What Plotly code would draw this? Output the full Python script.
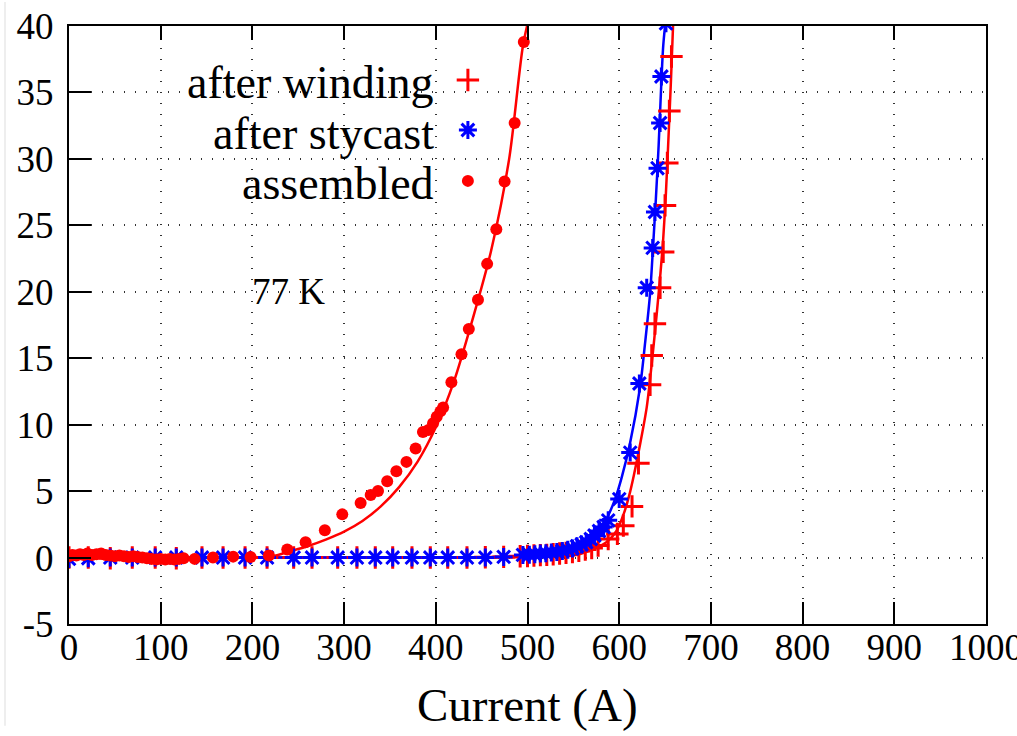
import plotly.graph_objects as go

# ---------------- data ----------------
winding_x = [0, 21, 45, 69, 94, 117, 145, 168, 192, 216, 245, 265, 293, 314, 334, 353, 374, 394,
             413, 434, 454, 474, 492, 500, 507, 514, 521, 528, 535, 542, 549, 556, 563, 570, 577,
             588, 598, 604.5, 614, 621, 633.7, 635.5, 639, 644.6, 648, 650, 652.5, 654.7, 657]
winding_y = [0.0, 0.0, -0.05, 0.0, 0.0, -0.05, 0.0, 0.0, 0.0, 0.0, 0.0, 0.0, 0.0, 0.0, 0.0, 0.0,
             0.0, 0.0, 0.0, 0.0, 0.02, 0.05, 0.1, 0.12, 0.15, 0.18, 0.2, 0.25, 0.3, 0.35, 0.42,
             0.5, 0.6, 0.72, 0.9, 1.4, 1.78, 2.4, 3.85, 7.1, 13.0, 15.2, 17.6, 20.3, 23.0, 26.5,
             29.7, 33.6, 37.7]

stycast_x = [0, 21, 45, 69, 94, 117, 145, 168, 192, 216, 245, 265, 293, 314, 334, 353, 374, 394,
             413, 434, 454, 474, 495, 502, 508, 514, 520, 526, 532, 538, 544, 549, 554, 559, 564,
             569, 573, 578, 583, 588, 600, 612, 622, 630, 636.5, 639, 641.8, 644.6, 646, 651]
stycast_y = [-0.1, -0.05, 0.0, 0.0, 0.0, 0.0, 0.0, 0.0, 0.0, 0.0, 0.0, 0.0, 0.0, 0.0, 0.0, 0.0,
             0.0, 0.0, 0.0, 0.0, 0.0, 0.05, 0.2, 0.22, 0.25, 0.3, 0.33, 0.38, 0.42, 0.5, 0.58,
             0.68, 0.85, 0.98, 1.15, 1.4, 1.66, 2.0, 2.3, 2.8, 4.4, 7.9, 13.1, 20.3, 23.3, 26.0,
             29.3, 32.7, 36.2, 40.2]

assembled_x = [0, 4, 8, 12, 16, 20, 25, 30, 35, 40, 45, 50, 55, 60, 65, 70, 75, 80, 85, 90, 95,
               100, 105, 110, 115, 120, 125, 137, 157, 179, 198, 218, 238, 258, 279, 298, 318,
               329, 337, 347, 357, 368, 378, 386, 392, 397, 401, 405, 408, 417, 428, 436, 446,
               456, 466, 475, 486, 496]
assembled_y = [0.1, 0.2, 0.15, 0.25, 0.2, 0.3, 0.2, 0.25, 0.3, 0.2, 0.15, 0.1, 0.15, 0.1, 0.05,
               0.1, 0.05, 0.0, -0.05, -0.1, -0.15, -0.1, -0.15, -0.1, -0.15, -0.1, -0.05, -0.1,
               0.0, 0.07, 0.05, 0.15, 0.6, 1.15, 2.05, 3.25, 4.1, 4.7, 5.0, 5.75, 6.5, 7.2, 8.2,
               9.45, 9.6, 10.1, 10.6, 11.0, 11.3, 13.2, 15.3, 17.2, 19.4, 22.1, 24.7, 28.3, 32.7,
               38.8]

# fitted curves
winding_fit_x = [0, 450, 500, 530, 550, 568, 586, 597, 605, 611, 616, 623, 630, 635.5, 641, 645,
                 648, 651, 654, 656.5, 659]
winding_fit_y = [0, 0, 0.03, 0.08, 0.15, 0.53, 1.15, 2.0, 3.3, 4.7, 6.2, 8.6, 11.3, 14.6, 18.4,
                 21.4, 24.0, 27.5, 32.0, 36.0, 40.5]

stycast_fit_x = [0, 400, 460, 500, 521, 543, 561, 575, 586, 595.5, 602.6, 611.8, 622.7, 628,
                 633.6, 637, 640, 643, 645.5, 648, 651.5]
stycast_fit_y = [0, 0, 0.03, 0.15, 0.32, 0.65, 1.15, 1.9, 2.9, 4.4, 6.0, 8.6, 12.8, 16.0, 19.8,
                 23.5, 27.0, 31.0, 35.0, 38.5, 41.0]

assembled_fit_x = [0, 200, 222, 240, 260, 280, 300, 320, 340, 360, 380, 400, 420, 440, 460,
                   480, 495, 503]
assembled_fit_y = [0, 0, 0.1, 0.45, 0.85, 1.35, 1.95, 2.75, 3.85, 5.3, 7.2, 9.8, 13.3, 17.9,
                   23.0, 30.0, 38.5, 41.0]

legend_labels = ["after winding", "after stycast", "assembled"]
x_ticks = [0, 100, 200, 300, 400, 500, 600, 700, 800, 900, 1000]
y_ticks = [-5, 0, 5, 10, 15, 20, 25, 30, 35, 40]

# ---------------- styling ----------------
RED = "#ff0000"
BLUE = "#0000ff"
FONT = "Liberation Serif"

fig = go.Figure()

# fit lines
fig.add_trace(go.Scatter(x=winding_fit_x, y=winding_fit_y, mode="lines", line=dict(color=RED, width=2.5, shape="spline", smoothing=0.8), showlegend=False, hoverinfo="skip"))
fig.add_trace(go.Scatter(x=stycast_fit_x, y=stycast_fit_y, mode="lines", line=dict(color=BLUE, width=2.5, shape="spline", smoothing=0.8), showlegend=False, hoverinfo="skip"))
fig.add_trace(go.Scatter(x=assembled_fit_x, y=assembled_fit_y, mode="lines", line=dict(color=RED, width=2.5, shape="spline", smoothing=0.8), showlegend=False, hoverinfo="skip"))

# data points
mk_wind = dict(symbol="cross-thin", size=16, color=RED, line=dict(color=RED, width=3))
mk_sty = dict(symbol="asterisk", size=15, color=BLUE, line=dict(color=BLUE, width=3))
mk_ass = dict(symbol="circle", size=12, color=RED, line=dict(width=0))

fig.add_trace(go.Scatter(x=winding_x, y=winding_y, mode="markers", marker=mk_wind, showlegend=False))
fig.add_trace(go.Scatter(x=stycast_x, y=stycast_y, mode="markers", marker=mk_sty, showlegend=False))
fig.add_trace(go.Scatter(x=assembled_x, y=assembled_y, mode="markers", marker=mk_ass, showlegend=False))

# legend keys (drawn on a hidden overlay axis in plot-fraction units)
key_y = [0.9097, 0.826, 0.741]
for mk, ky in zip([mk_wind, mk_sty, mk_ass], key_y):
    fig.add_trace(go.Scatter(x=[0.435], y=[ky], mode="markers", marker=mk, showlegend=False,
                             xaxis="x3", yaxis="y3", hoverinfo="skip"))

text_y = [0.906, 0.821, 0.737]
annotations = []
for lab, ty in zip(legend_labels, text_y):
    annotations.append(dict(text=lab, x=0.400, y=ty, xref="paper", yref="paper",
                            xanchor="right", yanchor="middle", showarrow=False,
                            font=dict(family=FONT, size=46, color="black")))
annotations.append(dict(text="77 K", x=197, y=20, xref="x", yref="y", xanchor="left",
                        yanchor="middle", showarrow=False,
                        font=dict(family=FONT, size=37, color="black")))
annotations.append(dict(text="Current (A)", x=0.5, y=-0.1355, xref="paper", yref="paper",
                        xanchor="center", yanchor="middle", showarrow=False,
                        font=dict(family=FONT, size=47, color="black")))

grid_dash = "1px,10px"
tick_font = dict(family=FONT, size=37, color="black")
fig.update_layout(
    width=1017, height=736,
    margin=dict(l=69, r=31, t=26, b=112),
    paper_bgcolor="white", plot_bgcolor="white",
    font=dict(family=FONT, color="black"),
    showlegend=False,
    annotations=annotations,
    xaxis=dict(range=[0, 1000], tickvals=x_ticks, ticktext=[str(v) for v in x_ticks],
               ticks="inside", ticklen=22, tickwidth=1.5, tickcolor="black",
               showline=True, linecolor="black", linewidth=2, mirror=True,
               showgrid=True, gridcolor="#333333", gridwidth=1.5, griddash=grid_dash,
               zeroline=False, automargin=False, ticklabelstandoff=-10,
               ticklabeloverflow="allow", tickfont=tick_font),
    yaxis=dict(range=[-5, 40], tickvals=y_ticks, ticktext=[str(v) for v in y_ticks],
               ticks="inside", ticklen=22, tickwidth=1.5, tickcolor="black",
               showline=True, linecolor="black", linewidth=2, mirror=True,
               showgrid=True, gridcolor="#333333", gridwidth=1.5, griddash=grid_dash,
               zeroline=False, automargin=False, ticklabelstandoff=6,
               ticklabeloverflow="allow", tickfont=tick_font),
    xaxis2=dict(overlaying="x", side="top", range=[0, 1000], tickvals=x_ticks,
                ticks="inside", ticklen=14, tickwidth=1.5, tickcolor="black",
                showticklabels=False, showgrid=False, showline=False, zeroline=False,
                automargin=False),
    xaxis3=dict(overlaying="x", range=[0, 1], visible=False, automargin=False),
    yaxis3=dict(overlaying="y", range=[0, 1], visible=False, automargin=False),
    shapes=[
        dict(type="line", xref="paper", yref="paper", x0=-0.0698, x1=-0.0698, y0=-0.17, y1=1.04,
             line=dict(color="#eeeeee", width=2)),
    ],
)
# dummy trace to activate the top tick axis
fig.add_trace(go.Scatter(x=[None], y=[None], xaxis="x2", yaxis="y", showlegend=False, hoverinfo="skip"))

fig.write_html("out.html")
